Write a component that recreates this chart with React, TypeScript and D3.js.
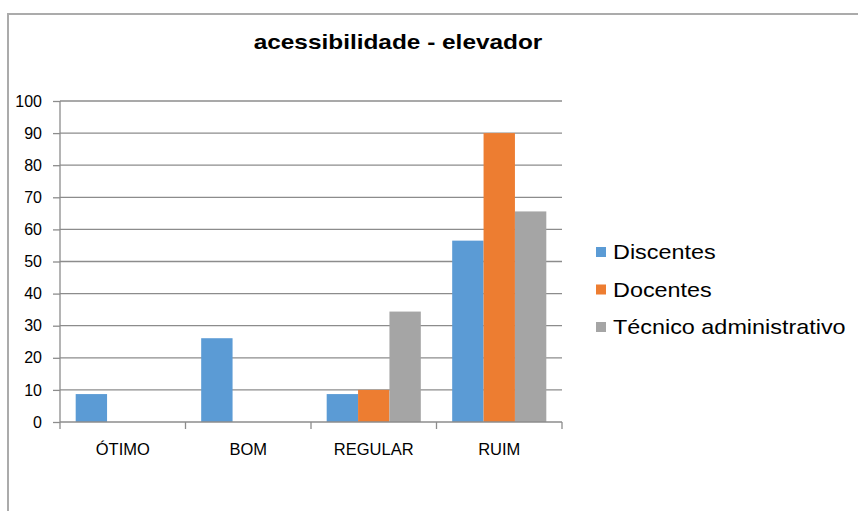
import React, { useEffect, useRef } from 'react';
import * as d3 from 'd3';

const categories = ['ÓTIMO', 'BOM', 'REGULAR', 'RUIM'];
const seriesNames = ['Discentes', 'Docentes', 'Técnico administrativo'];
const discentes = [8.7, 26.1, 8.7, 56.5];
const docentes = [0, 0, 10, 90];
const tecnicos = [0, 0, 34.4, 65.6];
const colors = ['#5B9BD5', '#ED7D31', '#A5A5A5'];
const yTicks = [0, 10, 20, 30, 40, 50, 60, 70, 80, 90, 100];

const W = 858;
const H = 511;
const FONT = '"Liberation Sans", Arial, sans-serif';

export default function App() {
  const ref = useRef<SVGSVGElement>(null);

  useEffect(() => {
    const svg = d3.select(ref.current);
    svg.selectAll('*').remove();

    const values = [discentes, docentes, tecnicos];

    // chart frame (top + left edge visible)
    svg.append('path')
      .attr('d', `M8,${H} L8,14 L${W},14`)
      .attr('fill', 'none')
      .attr('stroke', '#ABABAB')
      .attr('stroke-width', 2);

    svg.append('text')
      .attr('transform', 'translate(398,49) scale(1.22,1)')
      .attr('text-anchor', 'middle')
      .style('font-family', FONT)
      .style('font-weight', 'bold')
      .style('font-size', '20px')
      .attr('fill', '#000')
      .text('acessibilidade - elevador');

    const x0 = d3.scaleBand().domain(categories).range([60, 562]).paddingInner(0).paddingOuter(0);
    const bw = x0.bandwidth();
    const x1 = d3.scaleBand().domain(seriesNames).range([bw / 8, bw - bw / 8]).padding(0);
    const y = d3.scaleLinear().domain([0, 100]).range([422, 101]);

    // gridlines
    svg.append('g')
      .selectAll('line')
      .data(yTicks.filter(d => d > 0))
      .join('line')
      .attr('x1', 60)
      .attr('x2', 562)
      .attr('y1', d => y(d))
      .attr('y2', d => y(d))
      .attr('stroke', '#8C8C8C')
      .attr('stroke-width', 1.3);

    // bars
    const g = svg.append('g');
    values.forEach((vals, si) => {
      g.append('g')
        .selectAll('rect')
        .data(vals)
        .join('rect')
        .attr('x', (d, i) => (x0(categories[i]) as number) + (x1(seriesNames[si]) as number))
        .attr('y', d => y(d))
        .attr('width', x1.bandwidth())
        .attr('height', d => y(0) - y(d))
        .attr('fill', colors[si]);
    });

    // y axis
    const yAxis = svg.append('g')
      .attr('transform', 'translate(60,0)')
      .call(d3.axisLeft(y).tickValues(yTicks).tickSize(7).tickPadding(11));
    yAxis.select('.domain').attr('stroke', '#8C8C8C').attr('stroke-width', 1.3).attr('d', `M0,${y(100)}V${y(0)}`);
    yAxis.selectAll('.tick line').attr('stroke', '#8C8C8C').attr('stroke-width', 1.3);
    yAxis.selectAll('.tick text')
      .attr('fill', '#000')
      .style('font-family', FONT)
      .style('font-size', '16px');

    // x axis
    const xAxis = svg.append('g')
      .attr('transform', `translate(0,${y(0)})`)
      .call(d3.axisBottom(x0).tickSize(0).tickPadding(21));
    xAxis.select('.domain').attr('stroke', '#8C8C8C').attr('stroke-width', 1.3).attr('d', 'M60,0H562');
    xAxis.selectAll('.tick text')
      .attr('fill', '#000')
      .style('font-family', FONT)
      .style('font-size', '16.5px');
    xAxis.append('g')
      .selectAll('line')
      .data([60, ...categories.map(c => (x0(c) as number) + bw)])
      .join('line')
      .attr('x1', d => d)
      .attr('x2', d => d)
      .attr('y1', 0)
      .attr('y2', 7)
      .attr('stroke', '#8C8C8C')
      .attr('stroke-width', 1.3);

    // legend
    const legend = svg.append('g').attr('transform', 'translate(596,0)');
    seriesNames.forEach((name, i) => {
      const cy = 252 + i * 37.5;
      legend.append('rect')
        .attr('x', 0)
        .attr('y', cy - 5)
        .attr('width', 10)
        .attr('height', 10)
        .attr('fill', colors[i]);
      legend.append('text')
        .attr('transform', `translate(17,${cy + 7}) scale(1.17,1)`)
        .style('font-family', FONT)
        .style('font-size', '20px')
        .attr('fill', '#000')
        .text(name);
    });
  }, []);

  return (
    <div style={{ position: 'absolute', left: 0, top: 0 }}>
      <svg ref={ref} width={W} height={H} style={{ display: 'block', background: '#fff' }} />
    </div>
  );
}
